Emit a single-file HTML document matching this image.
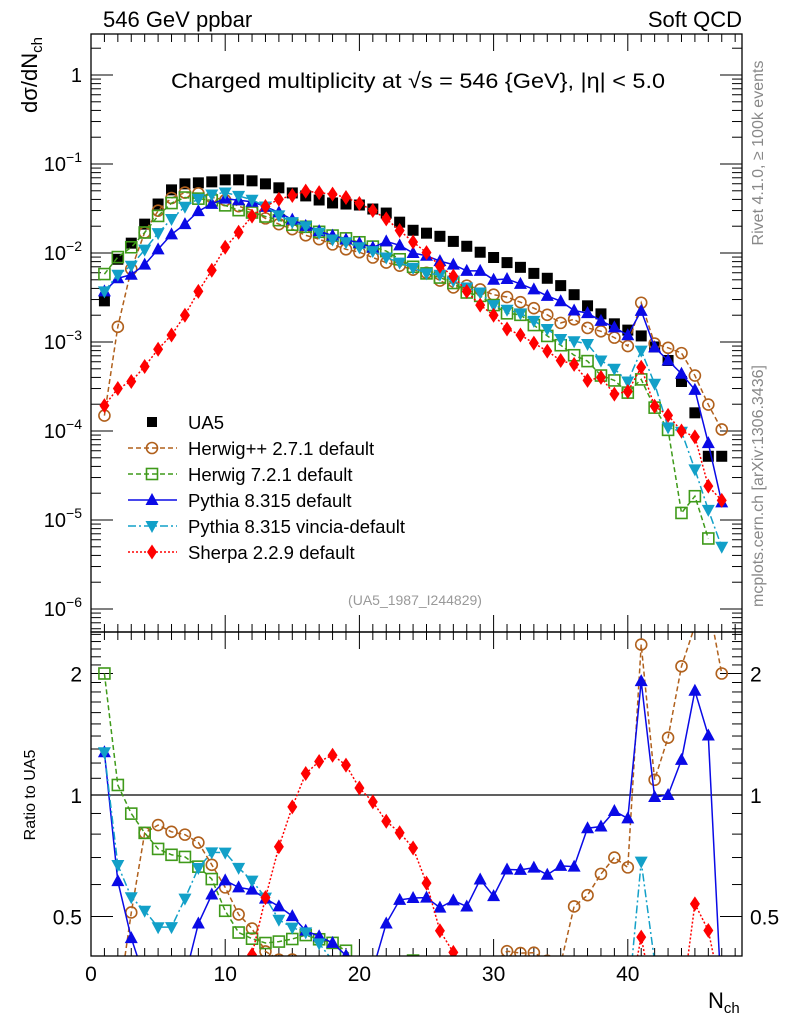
<!DOCTYPE html>
<html><head><meta charset="utf-8"><style>
html,body{margin:0;padding:0;background:#fff;width:786px;height:1024px;overflow:hidden}
svg{display:block;font-family:"Liberation Sans",Arial,sans-serif}
</style></head><body>
<svg id="chart" width="786" height="1024" viewBox="0 0 786 1024" xmlns="http://www.w3.org/2000/svg">
<defs>
<clipPath id="clipMain"><rect x="91" y="34" width="651" height="598"/></clipPath>
<clipPath id="clipRatio"><rect x="91" y="632" width="651" height="324"/></clipPath>
</defs>
<rect x="0" y="0" width="786" height="1024" fill="#fff"/>
<text x="103" y="27" font-size="22">546 GeV ppbar</text>
<text x="742" y="27" font-size="22" text-anchor="end">Soft QCD</text>
<text x="171" y="88" font-size="21.5" textLength="494" lengthAdjust="spacingAndGlyphs">Charged multiplicity at √s = 546 {GeV}, |η| &lt; 5.0</text>
<text transform="translate(37,75) rotate(-90)" font-size="22" text-anchor="middle">dσ/dN<tspan font-size="15" dy="5">ch</tspan></text>
<text transform="translate(35,795) rotate(-90)" font-size="16" text-anchor="middle">Ratio to UA5</text>
<text x="708" y="1008" font-size="22">N<tspan font-size="15" dy="5">ch</tspan></text>
<text transform="translate(763,153) rotate(-90)" font-size="16" fill="#888" text-anchor="middle">Rivet 4.1.0, ≥ 100k events</text>
<text transform="translate(763,486) rotate(-90)" font-size="16" fill="#888" text-anchor="middle">mcplots.cern.ch [arXiv:1306.3436]</text>
<text x="415" y="605" font-size="14" fill="#999" text-anchor="middle">(UA5_1987_I244829)</text>
<g id="axes"></g>
<g id="mainMarks" clip-path="url(#clipMain)"></g>
<g id="ratioMarks" clip-path="url(#clipRatio)"></g>
<g id="legend"></g>
<rect x="91" y="34" width="651" height="598" fill="none" stroke="#000" stroke-width="1.3"/>
<rect x="91" y="632" width="651" height="324" fill="none" stroke="#000" stroke-width="1.3"/>
</svg>
<script>
const nch = [1,2,3,4,5,6,7,8,9,10,11,12,13,14,15,16,17,18,19,20,21,22,23,24,25,26,27,28,29,30,31,32,33,34,35,36,37,38,39,40,41,42,43,44,45,46,47];
const ua5Values = [2.9e-3,8.5e-3,0.0129,0.0211,0.0355,0.0512,0.0598,0.0614,0.063,0.0664,0.0664,0.0647,0.0598,0.054,0.0473,0.0438,0.0394,0.0365,0.0355,0.0346,0.0312,0.0281,0.0222,0.018,0.0167,0.0154,0.0135,0.0119,0.0102,0.0089,0.0078,0.0069,0.0059,0.0052,0.0043,0.0034,0.00255,0.00207,0.0016,0.00136,0.00117,8.8e-4,6.2e-4,3.6e-4,1.6e-4,5.2e-5,5.2e-5];
const herwigppValues = [1.49e-4,1.48e-3,6.6e-3,0.0170,0.0299,0.0415,0.0477,0.0468,0.0423,0.0392,0.0336,0.0302,0.0245,0.0211,0.0185,0.0158,0.0143,0.0125,0.011,0.0102,0.0089,0.0078,0.0072,0.0065,0.006,0.0049,0.0041,0.0043,0.0039,0.0034,0.0032,0.0028,0.0024,0.00202,0.00164,0.0018,0.00144,0.00132,0.00112,9.0e-4,2.76e-3,9.6e-4,8.6e-4,7.5e-4,4.2e-4,1.98e-4,1.04e-4];
const herwig7Values = [5.8e-3,9.0e-3,0.0116,0.0170,0.0261,0.0364,0.042,0.0408,0.039,0.0343,0.0303,0.0285,0.0257,0.0234,0.0208,0.0197,0.0173,0.0157,0.0146,0.0132,0.0118,0.0105,0.0085,0.0070,0.0059,0.0053,0.0046,0.0036,0.0033,0.0026,0.0021,0.00202,0.00155,0.00117,9.2e-4,7.1e-4,6.1e-4,4.2e-4,3.7e-4,2.7e-4,3.8e-4,1.83e-4,1.03e-4,1.2e-5,1.85e-5,6.2e-6,null];
const pythiaValues = [3.7e-3,5.2e-3,5.7e-3,7.4e-3,0.011,0.0162,0.0211,0.0295,0.0357,0.0408,0.0392,0.0377,0.0331,0.0286,0.0237,0.0202,0.0176,0.0157,0.0142,0.0129,0.0115,0.0135,0.0122,0.0100,0.0093,0.0081,0.0074,0.0063,0.0063,0.0050,0.0051,0.0045,0.0039,0.0033,0.00287,0.00226,0.00211,0.00173,0.00146,0.00119,0.00224,8.7e-4,6.2e-4,4.4e-4,2.9e-4,7.3e-5,1.58e-5];
const vinciaValues = [3.7e-3,5.7e-3,7.2e-3,0.0109,0.0167,0.0241,0.0331,0.0405,0.0454,0.0478,0.0438,0.0397,0.0333,0.0265,0.0222,0.020,0.0169,0.0142,0.0132,0.0116,0.0105,0.0089,0.0078,0.0068,0.0059,0.0057,0.0049,0.0041,0.0036,0.0026,0.0023,0.0021,0.00173,0.0014,0.00108,0.00102,9.5e-4,6.2e-4,5.0e-4,3.6e-4,8.0e-4,3.4e-4,1.1e-4,9.8e-5,3.7e-5,1.3e-5,5.0e-6];
const sherpaValues = [1.93e-4,3.0e-4,3.6e-4,5.3e-4,8.3e-4,1.2e-3,2.0e-3,3.7e-3,6.4e-3,0.0116,0.0171,0.026,0.0333,0.0402,0.0442,0.0495,0.0477,0.0458,0.0421,0.036,0.030,0.0242,0.0179,0.0133,0.0101,0.0071,0.0055,0.0037,0.0026,0.0020,0.0014,0.0012,9.7e-4,7.9e-4,6.2e-4,5.6e-4,3.7e-4,4.0e-4,2.6e-4,2.78e-4,5.2e-4,1.9e-4,1.5e-4,1.0e-4,8.6e-5,2.4e-5,1.66e-5];
const xTickLabels = ["0","10","20","30","40"];
const yTickExps = [0,-1,-2,-3,-4,-5,-6];
const ratioTickLabels = ["0.5","1","2"];
const legendLabels = ["UA5","Herwig++ 2.7.1 default","Herwig 7.2.1 default","Pythia 8.315 default","Pythia 8.315 vincia-default","Sherpa 2.2.9 default"];

const NS = "http://www.w3.org/2000/svg";
const X0 = 91, X1 = 742, XPU = 13.42;
const xS = n => X0 + n * XPU;
const yM = v => 75 - 89 * Math.log10(v);
const yR = r => 795 - 121.5 * Math.log2(r);
function mk(tag, attrs, parent) {
  const e = document.createElementNS(NS, tag);
  for (const k in attrs) e.setAttribute(k, attrs[k]);
  parent.appendChild(e);
  return e;
}
const axes = document.getElementById('axes');
const mainG = document.getElementById('mainMarks');
const ratioG = document.getElementById('ratioMarks');
const legG = document.getElementById('legend');

for (let n = 0; n <= 48; n++) {
  const major = n % 10 === 0;
  const L = major ? 17 : 8;
  [[34, 1], [632, -1], [632, 1], [956, -1]].forEach(([y0, d]) => {
    const t = mk('line', {x1: xS(n), x2: xS(n), y1: y0, y2: y0 + d * L, stroke: '#000', 'stroke-width': 1}, axes);
    
    
  });
}
xTickLabels.forEach((lab, i) => {
  const t = mk('text', {x: xS(i * 10), y: 981, 'font-size': 21, 'text-anchor': 'middle'}, axes);
  t.textContent = lab;
  
  
});
for (let e = -7; e <= 0; e++) {
  for (let m = 1; m <= 9; m++) {
    const v = m * Math.pow(10, e);
    const y = yM(v);
    if (y < 34 || y > 632) continue;
    const L = m === 1 ? 22 : 10;
    [[X0, 1], [X1, -1]].forEach(([x0, d]) => {
      const t = mk('line', {x1: x0, x2: x0 + d * L, y1: y, y2: y, stroke: '#000', 'stroke-width': 1}, axes);
      
      
    });
  }
}
yTickExps.forEach(e => {
  const t = mk('text', {x: 82, y: yM(Math.pow(10, e)) + 7, 'font-size': 20, 'text-anchor': 'end'}, axes);
  if (e === 0) t.textContent = '1';
  else {
    t.textContent = '10';
    const s = mk('tspan', {'font-size': 14, dy: -9}, t);
    s.textContent = '−' + (-e);
  }
  
  
});
for (let k = 4; k <= 25; k++) {
  const r = k / 10;
  const y = yR(r);
  if (y < 633 || y > 955) continue;
  const major = (k === 5 || k === 10 || k === 20);
  const L = major ? 22 : 10;
  [[X0, 1], [X1, -1]].forEach(([x0, d]) => {
    const t = mk('line', {x1: x0, x2: x0 + d * L, y1: y, y2: y, stroke: '#000', 'stroke-width': 1}, axes);
    
    
  });
}
ratioTickLabels.forEach(lab => {
  const y = yR(parseFloat(lab)) + 8;
  const a = mk('text', {x: 82, y: y, 'font-size': 21, 'text-anchor': 'end'}, axes);
  a.textContent = lab;
  
  
  const b = mk('text', {x: 750, y: y, 'font-size': 21}, axes);
  b.textContent = lab;
  
  
});
const oneLine = mk('line', {x1: X0, x2: X1, y1: yR(1), y2: yR(1), stroke: '#000', 'stroke-width': 1.2}, ratioG);



function marker(type, x, y, color, parent) {
  let e;
  if (type === 'sq') e = mk('rect', {x: x - 5.5, y: y - 5.5, width: 11, height: 11, fill: color}, parent);
  else if (type === 'circ') e = mk('circle', {cx: x, cy: y, r: 5.5, fill: 'none', stroke: color, 'stroke-width': 1.6}, parent);
  else if (type === 'osq') e = mk('rect', {x: x - 5.5, y: y - 5.5, width: 11, height: 11, fill: 'none', stroke: color, 'stroke-width': 1.6}, parent);
  else if (type === 'up') e = mk('polygon', {points: `${x},${y-7} ${x-6.5},${y+5} ${x+6.5},${y+5}`, fill: color}, parent);
  else if (type === 'down') e = mk('polygon', {points: `${x},${y+7} ${x-6.5},${y-5} ${x+6.5},${y-5}`, fill: color}, parent);
  else e = mk('polygon', {points: `${x},${y-7.5} ${x+5},${y} ${x},${y+7.5} ${x-5},${y}`, fill: color}, parent);
  return e;
}
const models = [
  {key: 'herwigpp', vals: herwigppValues, color: '#b0601c', dash: '5,3', m: 'circ'},
  {key: 'herwig7', vals: herwig7Values, color: '#3f9a1a', dash: '5,3', m: 'osq'},
  {key: 'pythia', vals: pythiaValues, color: '#0a0ae6', dash: '', m: 'up'},
  {key: 'vincia', vals: vinciaValues, color: '#12a0c8', dash: '8,3,2,3', m: 'down'},
  {key: 'sherpa', vals: sherpaValues, color: '#ff0000', dash: '2,2', m: 'dia'}
];
function polyPts(vals, yf) {
  const segs = []; let cur = [];
  vals.forEach((v, i) => {
    if (v == null) { if (cur.length) segs.push(cur); cur = []; return; }
    cur.push(xS(nch[i]).toFixed(1) + ',' + yf(v, i).toFixed(1));
  });
  if (cur.length) segs.push(cur);
  return segs;
}
ua5Values.forEach((v, i) => {
  const p = marker('sq', xS(nch[i]), yM(v), '#000', mainG);
  
  
});
models.forEach(s => {
  polyPts(s.vals, v => yM(v)).forEach(seg => {
    const l = mk('polyline', {points: seg.join(' '), fill: 'none', stroke: s.color, 'stroke-width': 1.5, 'stroke-dasharray': s.dash}, mainG);
    
    
  });
  s.vals.forEach((v, i) => {
    if (v == null) return;
    const p = marker(s.m, xS(nch[i]), yM(v), s.color, mainG);
    
    
  });
  const rf = (v, i) => { const r = v / ua5Values[i]; return yR(Math.min(Math.max(r, 0.3), 3)); };
  polyPts(s.vals, rf).forEach(seg => {
    const l = mk('polyline', {points: seg.join(' '), fill: 'none', stroke: s.color, 'stroke-width': 1.5, 'stroke-dasharray': s.dash}, ratioG);
    
    
  });
  s.vals.forEach((v, i) => {
    if (v == null) return;
    const r = v / ua5Values[i];
    if (r < 0.38 || r > 2.6) return;
    const p = marker(s.m, xS(nch[i]), yR(r), s.color, ratioG);
    
    
  });
});
const legTypes = ['sq', 'circ', 'osq', 'up', 'down', 'dia'];
const legColors = ['#000', '#b0601c', '#3f9a1a', '#0a0ae6', '#12a0c8', '#ff0000'];
const legDash = [null, '5,3', '5,3', '', '8,3,2,3', '2,2'];
legendLabels.forEach((lab, i) => {
  const y = 422 + i * 26;
  if (legDash[i] !== null) {
    const l = mk('line', {x1: 128, x2: 177, y1: y, y2: y, stroke: legColors[i], 'stroke-width': 1.5, 'stroke-dasharray': legDash[i]}, legG);
    
    
  }
  const m = i === 0 ? mk('rect', {x: 147, y: y - 5, width: 10, height: 10, fill: '#000'}, legG) : marker(legTypes[i], 152, y, legColors[i], legG);
  
  
  const t = mk('text', {x: 188, y: y + 7, 'font-size': 18.5}, legG);
  t.textContent = lab;
  
  
});
</script>
</body></html>
